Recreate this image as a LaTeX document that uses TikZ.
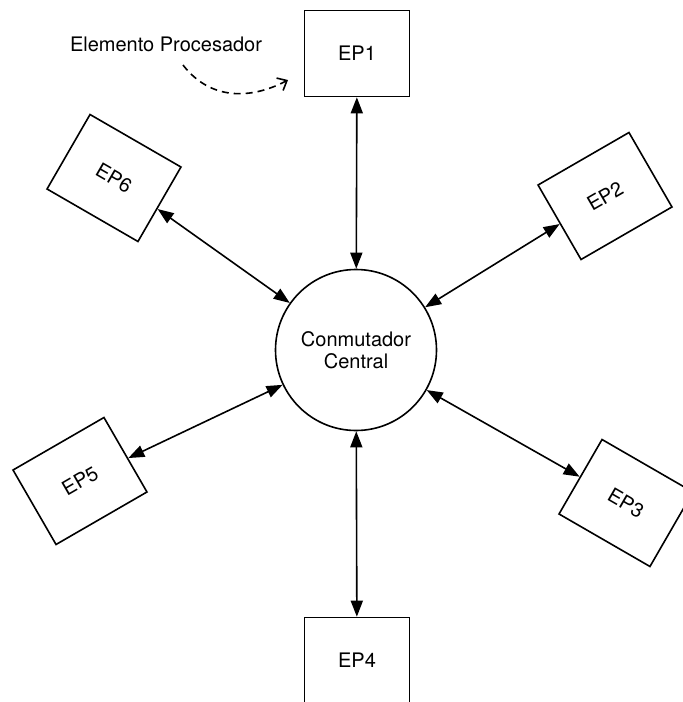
\documentclass[tikz,border=0pt]{standalone}
\usepackage{fontspec}
\setmainfont{TeX Gyre Heros}
\usetikzlibrary{arrows.meta}

\begin{document}
\begin{tikzpicture}[x=0.5pt, y=0.5pt, line width=0.8pt, >={Triangle[length=8pt,width=6pt]},
epnode/.style={rectangle, draw=black, minimum width=52.5pt, minimum height=43pt, inner sep=0pt, font=\fontsize{10}{12}\selectfont},
hubnode/.style={circle, draw=black, minimum size=80.5pt, inner sep=0pt, align=center, font=\fontsize{10}{11}\selectfont}]
    \useasboundingbox (0,0) rectangle (683,-702);
    \node[hubnode] (hub) at (356,-350) {Conmutador\\Central};
    \node[epnode] (ep1) at (357,-53.5) {EP1};
    \node[epnode, rotate=30] (ep2) at (605,-196) {EP2};
    \node[epnode, rotate=-30] (ep3) at (626,-503) {EP3};
    \node[epnode] (ep4) at (357,-660.5) {EP4};
    \node[epnode, rotate=30] (ep5) at (80,-481) {EP5};
    \node[epnode, rotate=-30] (ep6) at (114,-178) {EP6};

    \node[font=\fontsize{10}{12}\selectfont] (label) at (166,-44.5) {Elemento Procesador};
    \coordinate (from) at (183,-65);
    \coordinate (to) at (288,-80);

    \path[<->]
      (ep1) edge (hub)
      (ep2) edge (hub)
      (ep3) edge (hub)
      (ep4) edge (hub)
      (ep5) edge (hub)
      (ep6) edge (hub);

    \draw[dash pattern=on 3.5pt off 2.5pt, -{Straight Barb[length=4pt,width=7pt]}]
      (from) .. controls (210,-100) and (250,-100) .. (to);
\end{tikzpicture}
\end{document}
